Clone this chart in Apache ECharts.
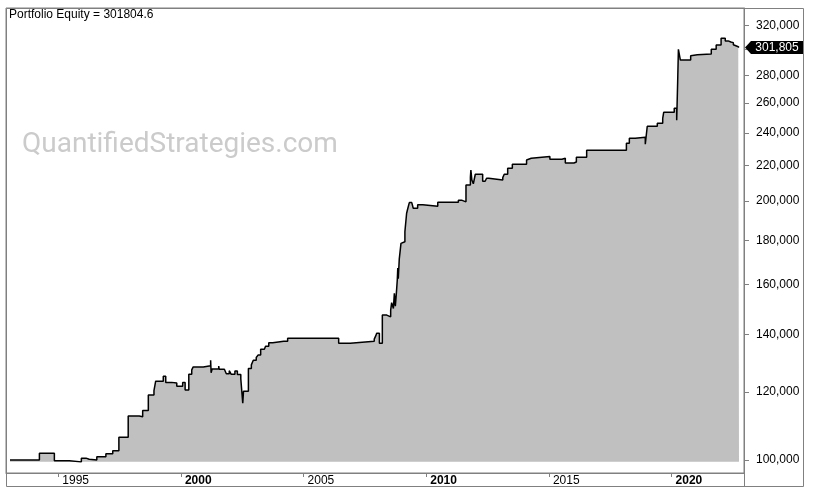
<!DOCTYPE html>
<html>
<head>
<meta charset="utf-8">
<script src="https://cdn.jsdelivr.net/npm/echarts@6/dist/echarts.min.js"></script>
<style>
html,body{margin:0;padding:0;background:#fff;}
#chart{width:814px;height:495px;}
</style>
</head>
<body>
<div id="chart"></div>
<script>
// ---- data (fractional year, equity) ----
const years = [
  1993.03, 1994.23, 1994.84, 1995.45, 1995.94, 1996.13, 1996.26, 1996.57, 1996.94, 1997.22,
  1997.47, 1997.85, 1998.30, 1998.44, 1998.67, 1998.90, 1998.97, 1999.28, 1999.38, 1999.62,
  1999.83, 2000.07, 2000.17, 2000.32, 2000.44, 2000.50, 2000.91, 2001.21, 2001.23, 2001.27,
  2001.54, 2001.56, 2001.77, 2001.85, 2001.97, 2002.05, 2002.20, 2002.30, 2002.44, 2002.52,
  2002.55, 2002.75, 2002.87, 2002.95, 2003.07, 2003.15, 2003.25, 2003.40, 2003.45, 2003.58,
  2003.74, 2004.19, 2004.22, 2004.35, 2006.43, 2006.90, 2007.88, 2007.94, 2007.98, 2008.09,
  2008.21, 2008.39, 2008.55, 2008.59, 2008.66, 2008.70, 2008.74, 2008.78, 2008.82, 2008.84,
  2008.86, 2008.90, 2008.97, 2009.01, 2009.13, 2009.20, 2009.24, 2009.31, 2009.41, 2009.47,
  2009.65, 2009.86, 2010.47, 2011.31, 2011.44, 2011.62, 2011.80, 2011.82, 2011.86, 2011.92,
  2012.00, 2012.30, 2012.40, 2012.46, 2012.55, 2013.12, 2013.18, 2013.32, 2013.51, 2014.09,
  2014.14, 2014.28, 2015.04, 2015.53, 2015.67, 2016.02, 2016.12, 2016.54, 2018.16, 2018.28,
  2018.52, 2018.93, 2019.01, 2019.42, 2019.64, 2019.68, 2020.11, 2020.21, 2020.25, 2020.28,
  2020.36, 2020.78, 2020.86, 2021.05, 2021.62, 2021.82, 2022.02, 2022.19, 2022.31, 2022.42,
  2022.52, 2022.60, 2022.72, 2022.75
];
const equity = [
  100000, 101800, 99800, 99500, 100500, 100200, 100000, 100900, 101700, 102500,
  106300, 112500, 112300, 114200, 119000, 120400, 123500, 125100, 123100, 122900,
  121800, 123100, 120600, 125800, 127300, 128300, 128700, 130600, 126300, 127600,
  128600, 127500, 126900, 126000, 127000, 125800, 126900, 125700, 124300, 116400,
  120200, 127800, 129000, 130600, 131600, 132500, 134500, 134000, 135600, 136900,
  137400, 137000, 137400, 138500, 136700, 137400, 138200, 139400, 140400, 136700,
  147400, 146700, 149400, 152400, 150000, 156300, 151000, 156000, 162000, 167200,
  162500, 171200, 178600, 179400, 184300, 193600, 195700, 199200, 198300, 196200,
  198100, 197300, 199400, 200500, 199600, 208800, 213200, 217400, 211600, 209500,
  214900, 210900, 210100, 212600, 211600, 213000, 214900, 218400, 220700, 223300,
  224300, 225300, 223700, 224300, 221500, 222100, 224900, 229100, 233500, 236600,
  237300, 232900, 244400, 246300, 249600, 253700, 256400, 248300, 275400, 300300,
  291800, 295200, 296000, 296500, 300300, 303800, 309300, 307100, 306200, 305700,
  304000, 302400, 301805, 301804.6
];
const LAST_EQUITY = 301804.6;
const yearTicks = [1995, 2000, 2005, 2010, 2015, 2020];
const boldYears = [2000, 2010, 2020];
const equityTicks = [100000, 120000, 140000, 160000, 180000, 200000, 220000, 240000, 260000, 280000, 300000, 320000];
const equityLabels = [100000, 120000, 140000, 160000, 180000, 200000, 220000, 240000, 260000, 280000, 320000];
const titleText = 'Portfolio Equity = ' + LAST_EQUITY;
const watermark = 'QuantifiedStrategies.com';

// ---- chart ----
const X_MIN = 1992.868, X_MAX = 2022.954;
const Y_MIN = 96580, Y_MAX = 335400;
const L = v => Math.log10(v);
const fmt = v => Math.round(v).toLocaleString('en-US');
const FONT = '"Liberation Sans", Arial, sans-serif';
const GREY = '#808080';

const seriesData = years.map((y, i) => [y, L(equity[i])]);
const minEq = Math.min.apply(null, equity);

const chart = echarts.init(document.getElementById('chart'), null, {renderer: 'canvas'});
chart.setOption({
  animation: false,
  backgroundColor: '#fff',
  textStyle: {fontFamily: FONT},
  grid: {left: 6, top: 8, right: 70, bottom: 22, show: true, borderColor: GREY, borderWidth: 1, backgroundColor: 'transparent'},
  graphic: [
    {type: 'rect', z: 100, silent: true, shape: {x: 6.5, y: 8.5, width: 797, height: 478}, style: {fill: null, stroke: GREY, lineWidth: 1}},
    {type: 'line', z: 100, silent: true, shape: {x1: 744.5, y1: 473, x2: 744.5, y2: 487}, style: {stroke: GREY, lineWidth: 1}},
    {type: 'text', z: 1, silent: true, left: 22, top: 131, style: {text: watermark, fill: '#cbcbcb', font: '28px Roboto, "Noto Sans", sans-serif'}},
    {type: 'text', z: 100, silent: true, left: 9, top: 9, style: {text: titleText, fill: '#000', font: '12px ' + FONT}}
  ],
  xAxis: {
    type: 'value', min: X_MIN, max: X_MAX,
    splitLine: {show: false},
    axisLine: {show: true, onZero: false, lineStyle: {color: GREY, width: 1}},
    axisTick: {show: true, customValues: yearTicks, length: 4, lineStyle: {color: GREY}},
    axisLabel: {
      customValues: yearTicks, margin: 2, align: 'left', padding: [0, 0, 0, 4],
      formatter: v => boldYears.indexOf(Math.round(v)) >= 0 ? '{b|' + Math.round(v) + '}' : '{n|' + Math.round(v) + '}',
      rich: {
        b: {fontWeight: 'bold', fontSize: 12, color: '#000', fontFamily: FONT},
        n: {fontSize: 12, color: '#000', fontFamily: FONT}
      }
    }
  },
  yAxis: {
    type: 'value', position: 'right', min: L(Y_MIN), max: L(Y_MAX),
    splitLine: {show: false},
    axisLine: {show: true, lineStyle: {color: GREY, width: 1}},
    axisTick: {show: true, customValues: equityTicks.map(L), length: 5, lineStyle: {color: GREY}},
    axisLabel: {
      customValues: equityLabels.map(L), margin: 12, align: 'left',
      color: '#000', fontSize: 12, fontFamily: FONT,
      formatter: v => fmt(Math.pow(10, v))
    }
  },
  series: [{
    type: 'line',
    data: seriesData,
    step: 'end',
    showSymbol: false,
    clip: false,
    lineStyle: {color: '#000', width: 1.5},
    areaStyle: {color: '#c0c0c0', opacity: 1, origin: L(minEq)},
    z: 3,
    markPoint: {
      silent: true,
      symbol: 'path://M0,6.5 L6,0 L58,0 L58,13 L6,13 Z',
      symbolSize: [58, 13],
      symbolKeepAspect: false,
      symbolOffset: [30, 0],
      itemStyle: {color: '#000'},
      label: {show: true, position: 'inside', offset: [3, 0], color: '#fff', fontSize: 12, fontFamily: FONT,
              formatter: p => fmt(p.value)},
      data: [{coord: [X_MAX, L(LAST_EQUITY)], value: LAST_EQUITY}]
    }
  }]
});
</script>
</body>
</html>
